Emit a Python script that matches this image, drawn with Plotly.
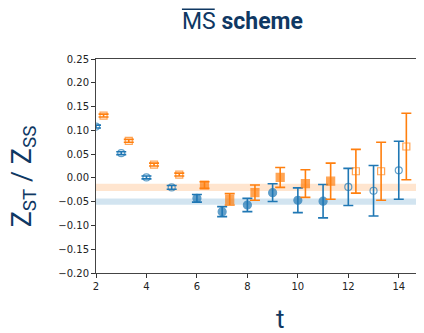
import plotly.graph_objects as go

# ---- data ----
t_blue = [2, 3, 4, 5, 6, 7, 8, 9, 10, 11, 12, 13, 14]
z_blue = [0.108, 0.052, 0.001, -0.020, -0.043, -0.071, -0.057, -0.031, -0.047, -0.049, -0.019, -0.027, 0.016]
e_blue = [0.003, 0.003, 0.003, 0.004, 0.008, 0.0105, 0.014, 0.0186, 0.026, 0.035, 0.039, 0.053, 0.061]
filled_blue = [False, False, False, False, True, True, True, True, True, True, False, False, False]

t_orange = [2.3, 3.3, 4.3, 5.3, 6.3, 7.3, 8.3, 9.3, 10.3, 11.3, 12.3, 13.3, 14.3]
z_orange = [0.131, 0.078, 0.028, 0.007, -0.015, -0.045, -0.031, 0.001, -0.012, -0.007, 0.014, 0.014, 0.066]
e_orange = [0.003, 0.003, 0.003, 0.003, 0.007, 0.012, 0.016, 0.021, 0.029, 0.038, 0.046, 0.061, 0.070]
filled_orange = [False, False, False, False, True, True, True, True, True, True, False, False, False]

band_orange = (-0.020, 0.0075)   # centre, half width
band_blue = (-0.050, 0.0065)

x_range = [2, 15]
y_range = [-0.20, 0.25]
y_ticks = [-0.20, -0.15, -0.10, -0.05, 0.00, 0.05, 0.10, 0.15, 0.20, 0.25]
x_ticks = [2, 4, 6, 8, 10, 12, 14]

BLUE = "#1f77b4"
ORANGE = "#ff7f0e"
NAVY = "#0f3863"

fig = go.Figure()

for c, (lo_c, hw) in [("rgba(255,127,14,0.2)", band_orange), ("rgba(31,119,180,0.2)", band_blue)]:
    fig.add_shape(type="rect", xref="x", yref="y", x0=x_range[0], x1=x_range[1],
                  y0=lo_c - hw, y1=lo_c + hw, fillcolor=c, line_width=0, layer="below")

def add_series(t, z, e, filled, color, sym):
    symbols = [sym if f else sym + "-open" for f in filled]
    sizes = [8 if f else 7 for f in filled]
    fig.add_trace(go.Scatter(
        x=t, y=z, mode="markers",
        marker=dict(color=color, symbol=symbols, size=sizes, line=dict(color=color, width=1.2)),
        error_y=dict(type="data", array=e, visible=True, color=color, thickness=1.6, width=5),
        showlegend=False, cliponaxis=True,
    ))

add_series(t_blue, z_blue, e_blue, filled_blue, BLUE, "circle")
add_series(t_orange, z_orange, e_orange, filled_orange, ORANGE, "square")

axis_common = dict(showgrid=False, zeroline=False, showline=True, linecolor="#444444", linewidth=1,
                   ticks="outside", ticklen=4, tickcolor="#333333", mirror=True, automargin=False,
                   tickfont=dict(family="DejaVu Sans", size=10, color="#222222"))

fig.update_xaxes(range=x_range, tickvals=x_ticks, **axis_common)
fig.update_yaxes(range=y_range, tickvals=y_ticks, tickformat=".2f", **axis_common)

fig.add_annotation(text="t", xref="paper", yref="paper", x=0.561, y=-0.215, xanchor="center", yanchor="middle",
                   showarrow=False, font=dict(family="Roboto", size=26, color=NAVY))
fig.add_annotation(text="Z<sub>ST</sub> / Z<sub>SS</sub>", xref="paper", yref="paper",
                   x=-0.221, y=0.449, xanchor="center", yanchor="middle", textangle=-90,
                   width=130, height=44, align="center", valign="middle",
                   showarrow=False, font=dict(family="Roboto", size=27, color=NAVY))
fig.add_annotation(text="MS <b>scheme</b>", xref="paper", yref="paper",
                   x=0.447, y=1.175, xanchor="center", yanchor="middle",
                   showarrow=False, font=dict(family="Roboto", size=23, color=NAVY))
# overline over "MS"
fig.add_shape(type="line", xref="paper", yref="paper", x0=0.262, x1=0.362, y0=1.232, y1=1.232,
              line=dict(color=NAVY, width=1.5))

# page body has an 8px margin, so the figure is sized/offset to fill the 424x333 window
fig.update_layout(
    width=416, height=325,
    margin=dict(l=88, r=0, t=51, b=60),
    plot_bgcolor="white", paper_bgcolor="white",
)

fig.write_html("out.html")
